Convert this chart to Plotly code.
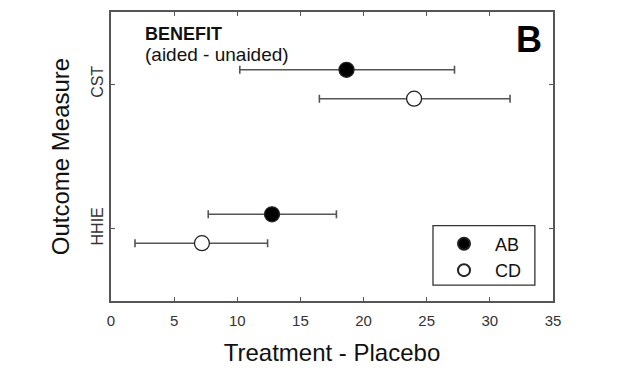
import plotly.graph_objects as go

measures = ["HHIE", "CST"]
measure_pos = [1, 2]
groups = ["AB", "CD"]
offsets = {"AB": 0.1, "CD": -0.1}
means = {"AB": [12.75, 18.65], "CD": [7.2, 24.0]}
lower = {"AB": [7.7, 10.2], "CD": [1.9, 16.5]}
upper = {"AB": [17.85, 27.2], "CD": [12.4, 31.6]}
x_ticks = [0, 5, 10, 15, 20, 25, 30, 35]

fills = {"AB": "black", "CD": "white"}
axc = "#555555"

fig = go.Figure()
for g in groups:
    ys = [p + offsets[g] for p in measure_pos]
    fig.add_trace(go.Scatter(
        x=means[g], y=ys, mode="markers", name=g,
        marker=dict(size=15, color=fills[g], line=dict(color="#222222", width=1.3)),
        error_x=dict(type="data", symmetric=False,
                     array=[u - m for u, m in zip(upper[g], means[g])],
                     arrayminus=[m - l for m, l in zip(means[g], lower[g])],
                     color=axc, thickness=1.6, width=4),
    ))

fig.update_layout(
    width=627, height=376,
    margin=dict(l=103, r=82, t=2, b=83),
    plot_bgcolor="white", paper_bgcolor="white",
    font=dict(family="Liberation Sans, Arial", color="#222222"),
    showlegend=True,
    legend=dict(x=0.7285, y=0.261, xanchor="left", yanchor="top",
                borderwidth=0, bgcolor="rgba(0,0,0,0)",
                font=dict(size=18, color="#111111"), itemsizing="constant",
                tracegroupgap=0, itemwidth=52),
    xaxis=dict(range=[0, 35], tickvals=x_ticks, ticks="inside", ticklen=4,
               tickcolor=axc, showline=True, linecolor=axc, linewidth=1.5,
               mirror="ticks", showgrid=False, zeroline=False,
               tickfont=dict(size=15, color="#333333"), ticklabelstandoff=5,
               title=dict(text="Treatment - Placebo", font=dict(size=24, color="#111111"), standoff=16)),
    yaxis=dict(range=[0.5, 2.5], tickvals=measure_pos, ticktext=measures, tickangle=-90,
               ticks="inside", ticklen=4, tickcolor=axc, showline=True, linecolor=axc,
               linewidth=1.5, mirror="ticks", showgrid=False, zeroline=False,
               tickfont=dict(size=16, color="#333333"),
               title=dict(text="Outcome Measure", font=dict(size=24, color="#111111"), standoff=12)),
)

# legend frame
fig.add_shape(type="rect", xref="paper", yref="paper", x0=0.7285, x1=0.959, y0=0.055, y1=0.261,
              line=dict(color="#333333", width=1.3), fillcolor="white", layer="above")

fig.add_annotation(x=0.072, y=0.925, xref="paper", yref="paper", xanchor="left", yanchor="middle",
                   text="<b>BENEFIT</b>", showarrow=False, font=dict(size=18, color="#111111"))
fig.add_annotation(x=0.072, y=0.853, xref="paper", yref="paper", xanchor="left", yanchor="middle",
                   text="(aided - unaided)", showarrow=False, font=dict(size=19, color="#111111"))
fig.add_annotation(x=0.98, y=0.905, xref="paper", yref="paper", xanchor="right", yanchor="middle",
                   text="<b>B</b>", showarrow=False, font=dict(size=36, color="black"))

fig.write_html("out.html")
